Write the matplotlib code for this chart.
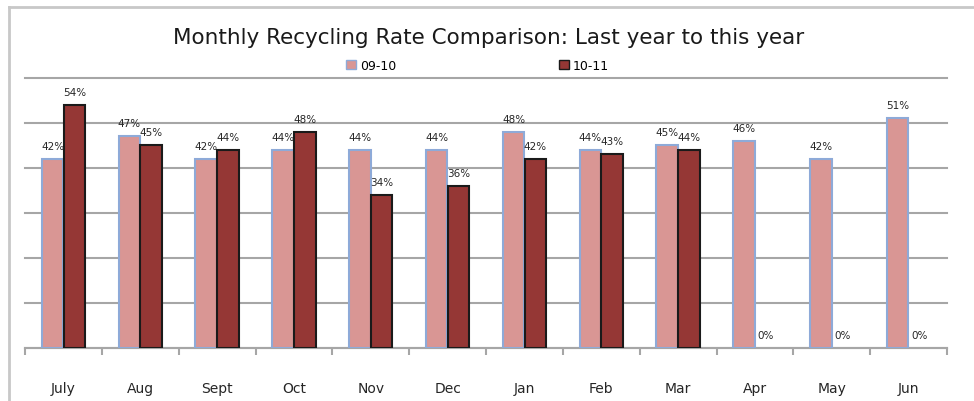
import numpy as np
import matplotlib
matplotlib.use("Agg")
import matplotlib.pyplot as plt
from matplotlib.patches import Patch
from matplotlib.lines import Line2D

# data
months = ["July", "Aug", "Sept", "Oct", "Nov", "Dec", "Jan", "Feb", "Mar", "Apr", "May", "Jun"]
rate_0910 = [42, 47, 42, 44, 44, 44, 48, 44, 45, 46, 42, 51]
rate_1011 = [54, 45, 44, 48, 34, 36, 42, 43, 44, 0, 0, 0]
series_names = ["09-10", "10-11"]

pink = "#d99694"
pink_edge = "#8eaad8"
maroon = "#953735"
maroon_edge = "#1a1a1a"
grid_col = "#a6a6a6"

plt.rcParams['font.family'] = ['DejaVu Sans']

fig = plt.figure(figsize=(9.74, 4.02), dpi=100)
ax = fig.add_axes([0.0257, 0.1318, 0.9466, 0.6717])

x = np.arange(len(months))
w = 0.28
lw1 = [1.5 if v > 0 else 0 for v in rate_0910]
lw2 = [1.5 if v > 0 else 0 for v in rate_1011]
b1 = ax.bar(x - 0.142, rate_0910, w, color=pink, edgecolor=pink_edge, linewidth=lw1, zorder=3)
b2 = ax.bar(x + 0.142, rate_1011, w, color=maroon, edgecolor=maroon_edge, linewidth=lw2, zorder=3)

# data labels
for bars, vals in [(b1, rate_0910), (b2, rate_1011)]:
    for r, v in zip(bars, vals):
        ax.annotate(f"{v}%", (r.get_x() + r.get_width() / 2, v),
                    xytext=(0, 6), textcoords="offset points",
                    ha="center", va="bottom", fontsize=7.5, color="#262626")

ax.set_ylim(0, 60)
ax.set_xlim(-0.5, len(months) - 0.5)
ax.set_yticks(np.arange(0, 61, 10))
ax.yaxis.grid(True, color=grid_col, linewidth=1.5, zorder=0)
for gl in ax.get_ygridlines():
    gl.set_clip_on(False)
ax.tick_params(axis="y", left=False, labelleft=False)

ax.set_xticks(x)
ax.set_xticklabels(months, fontsize=10, color="#262626")
ax.tick_params(axis="x", which="major", length=0, pad=24)
ax.set_xticks(np.arange(-0.5, len(months)), minor=True)
ax.tick_params(axis="x", which="minor", length=5, width=1.5, color=grid_col, direction="out")

for s in ["left", "right", "top"]:
    ax.spines[s].set_visible(False)
ax.spines["bottom"].set_color(grid_col)
ax.spines["bottom"].set_linewidth(1.5)

fig.text(0.502, 0.905, "Monthly Recycling Rate Comparison: Last year to this year",
         ha="center", va="center", fontsize=15.5, color="#1a1a1a")

handles = [Patch(facecolor=pink, edgecolor=pink_edge, label=series_names[0]),
           Patch(facecolor=maroon, edgecolor=maroon_edge, label=series_names[1])]
fig.legend(handles=handles, loc="center", bbox_to_anchor=(0.49, 0.835), ncol=2,
           frameon=False, fontsize=9, handlelength=0.8, handleheight=0.8,
           handletextpad=0.3, columnspacing=13)

# outer chart border (top and left visible in the crop)
fig.add_artist(Line2D([0.0092, 0.0092], [0, 0.981], color="#c8c8c8", linewidth=2))
fig.add_artist(Line2D([0.0092, 1.0], [0.981, 0.981], color="#c8c8c8", linewidth=2))

fig.savefig("out.png", dpi=100)
